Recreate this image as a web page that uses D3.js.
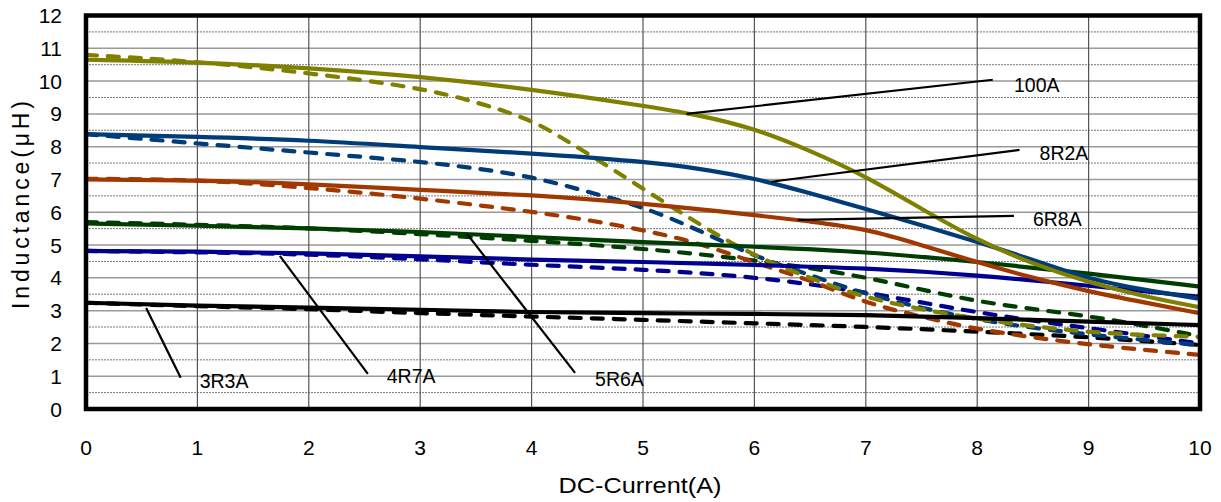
<!DOCTYPE html>
<html><head><meta charset="utf-8">
<script src="https://cdn.jsdelivr.net/npm/d3@7"></script>
<style>
html,body{margin:0;padding:0;background:#fff;}
svg text{font-family:"Liberation Sans",Arial,sans-serif;fill:#000;}
</style></head>
<body><svg id="c" width="1221" height="502"></svg>
<script>
// ---- data ----
const xTicks = [0,1,2,3,4,5,6,7,8,9,10];
const yTicks = [0,1,2,3,4,5,6,7,8,9,10,11,12];
const currentInt = [0,1,2,3,4,5,6,7,8,9,10];

const s100A_x = [0,1,2,3,4,5,5.5,6,6.5,7,7.5,8,8.5,9,9.5,10];
const s100A_solid = [10.65,10.58,10.4,10.14,9.75,9.25,8.97,8.56,7.88,7.1,6.1,5.15,4.42,3.86,3.43,3.1];
const s100A_dx = [0,1,2,3,3.5,4,4.25,4.5,5,5.5,6,6.5,7,8,9,10];
const s100A_dash = [10.8,10.6,10.25,9.8,9.37,8.82,8.31,7.8,6.72,5.64,4.65,4.0,3.35,2.72,2.31,2.2];

const s8R2A_x = [0,1,2,3,4,5,5.5,6,6.5,7,7.5,8,8.5,9,9.5,10];
const s8R2A_solid = [8.38,8.3,8.2,7.98,7.8,7.55,7.34,7.04,6.58,6.1,5.61,5.1,4.55,3.96,3.63,3.36];
const s8R2A_dx = [0,1,2,3,3.5,4,4.5,5,5.5,6,6.5,7,8,9,10];
const s8R2A_dash = [8.38,8.1,7.82,7.55,7.34,7.09,6.63,6.17,5.46,4.65,4.09,3.48,2.68,2.26,1.95];

const s6R8A_x = [0,1,2,3,4,5,6,6.5,7,7.5,8,8.5,9,9.5,10];
const s6R8A_solid = [7.0,6.98,6.86,6.68,6.53,6.27,5.92,5.72,5.5,5.0,4.47,4.0,3.58,3.25,2.92];
const s6R8A_dx = [0,1,2,3,4,4.5,5,5.5,6,6.5,7,7.5,8,9,10];
const s6R8A_dash = [7.02,7.0,6.75,6.43,6.02,5.77,5.46,5.07,4.46,3.94,3.22,2.82,2.41,1.95,1.65];

const s5R6A_solid = [5.66,5.59,5.51,5.41,5.24,5.09,4.95,4.8,4.49,4.14,3.73];
const s5R6A_dash = [5.7,5.62,5.52,5.34,5.13,4.9,4.55,4.06,3.22,2.87,2.22];

const s4R7A_solid = [4.82,4.8,4.76,4.65,4.55,4.49,4.39,4.3,4.09,3.76,3.42];
const s4R7A_dash = [4.82,4.78,4.72,4.57,4.39,4.26,4.04,3.58,2.92,2.47,2.0];

const s3R3A_solid = [3.24,3.15,3.09,3.03,2.95,2.92,2.9,2.88,2.77,2.66,2.56];
const s3R3A_dash = [3.24,3.13,3.05,2.92,2.82,2.72,2.61,2.51,2.36,2.2,1.95];

const seriesNames = ["100A","8R2A","6R8A","5R6A","4R7A","3R3A"];
const seriesColors = ["#808000","#003c78","#a03800","#003d00","#000090","#000000"];

// leader lines: [x1,y1,x2,y2,textX,textY]
const leaders = [
  [5.39,9.0,8.14,10.04,8.33,9.68],
  [6.15,6.93,8.38,7.9,8.56,7.6],
  [6.39,5.77,8.33,5.89,8.5,5.58],
  [3.42,5.34,4.39,1.1,4.57,0.7],
  [1.74,4.67,2.53,1.07,2.7,0.79],
  [0.54,3.08,0.85,0.95,1.02,0.64]
];

// ---- chart ----
const svg = d3.select("#c");
const L=86, R=1200, T=15.5, B=409;
const x = d3.scaleLinear().domain([0,10]).range([L,R]);
const y = d3.scaleLinear().domain([0,12]).range([B,T]);

// minor grid
const halfs = d3.range(0.5,12,1);
svg.append("g").selectAll("line").data(halfs).join("line")
  .attr("x1",L).attr("x2",R).attr("y1",d=>y(d)).attr("y2",d=>y(d))
  .attr("stroke","#555").attr("stroke-width",0.8).attr("stroke-dasharray","2,1");
// major horizontal
svg.append("g").selectAll("line").data(yTicks.slice(1,12)).join("line")
  .attr("x1",L).attr("x2",R).attr("y1",d=>y(d)).attr("y2",d=>y(d))
  .attr("stroke","#9a9a9a").attr("stroke-width",1.5);
// vertical
svg.append("g").selectAll("line").data(xTicks.slice(1,10)).join("line")
  .attr("x1",d=>x(d)).attr("x2",d=>x(d)).attr("y1",T).attr("y2",B)
  .attr("stroke","#555").attr("stroke-width",1.2);

// curves
const plot = svg.append("g");
function draw(xs, ys, color, dashed){
  const pts = xs.map((v,i)=>[v,ys[i]]);
  const line = d3.line().x(d=>x(d[0])).y(d=>y(d[1])).curve(d3.curveBasis);
  const p = plot.append("path").attr("d",line(pts)).attr("fill","none")
    .attr("stroke",color).attr("stroke-width",4.2);
  if(dashed) p.attr("stroke-dasharray","11,11").attr("stroke-linecap","round");
}
const allSeries = [
  [s100A_x,s100A_solid,s100A_dx,s100A_dash],
  [s8R2A_x,s8R2A_solid,s8R2A_dx,s8R2A_dash],
  [s6R8A_x,s6R8A_solid,s6R8A_dx,s6R8A_dash],
  [currentInt,s5R6A_solid,currentInt,s5R6A_dash],
  [currentInt,s4R7A_solid,currentInt,s4R7A_dash],
  [currentInt,s3R3A_solid,currentInt,s3R3A_dash]
];
for(let k=allSeries.length-1;k>=0;k--){ const s=allSeries[k]; draw(s[2],s[3],seriesColors[k],true); }
for(let k=allSeries.length-1;k>=0;k--){ const s=allSeries[k]; draw(s[0],s[1],seriesColors[k],false); }

// leaders & labels
leaders.forEach((l,i)=>{
  svg.append("line").attr("x1",x(l[0])).attr("y1",y(l[1])).attr("x2",x(l[2])).attr("y2",y(l[3]))
    .attr("stroke","#000").attr("stroke-width",2.2);
  svg.append("text").attr("x",x(l[4])).attr("y",y(l[5])).attr("font-size",19.5).text(seriesNames[i]);
});

// frame
svg.append("rect").attr("x",L).attr("y",T).attr("width",R-L).attr("height",B-T)
  .attr("fill","none").attr("stroke","#000").attr("stroke-width",4.5);

// axes labels
svg.append("g").selectAll("text").data(yTicks).join("text")
  .attr("x",62).attr("y",d=>y(d)).attr("dy","0.36em").attr("text-anchor","end")
  .attr("font-size",21).text(d=>d);
svg.append("g").selectAll("text").data(xTicks).join("text")
  .attr("x",d=>x(d)).attr("y",447).attr("dy","0.36em").attr("text-anchor","middle")
  .attr("font-size",21).text(d=>d);
svg.append("text").attr("x",640).attr("y",485).attr("dy","0.36em").attr("text-anchor","middle")
  .attr("font-size",22).attr("textLength",163).attr("lengthAdjust","spacingAndGlyphs").text("DC-Current(A)");
svg.append("text").attr("transform","translate(21,205) rotate(-90)").attr("dy","0.36em")
  .attr("text-anchor","middle").attr("font-size",23)
  .attr("textLength",208).attr("lengthAdjust","spacing").text("Inductance(μH)");
</script></body></html>
